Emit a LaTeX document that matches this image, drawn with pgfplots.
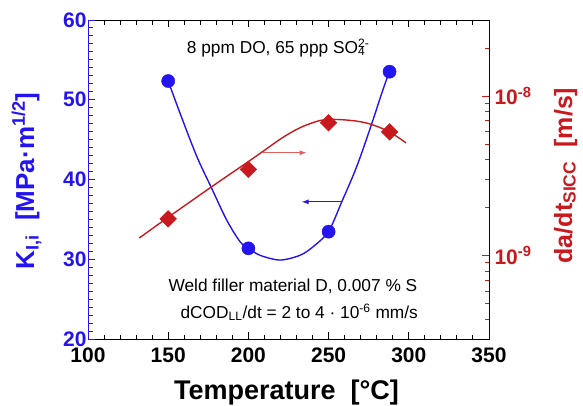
\documentclass[border=0pt]{standalone}
\usepackage{fontspec}
\setmainfont{Liberation Sans}
\usepackage{pgfplots}
\pgfplotsset{compat=1.18}
\usetikzlibrary{arrows.meta}
\definecolor{kblue}{RGB}{35,20,240}
\definecolor{kred}{RGB}{200,25,30}
\definecolor{karrow}{RGB}{225,95,95}
\pgfplotsset{
  common/.style={at={(88pt,-339pt)}, anchor=south west, width=401pt, height=319pt,
    scale only axis, xmin=100, xmax=350, tick align=inside,
    major tick length=7pt, minor tick length=4.5pt}
}
\begin{document}
\begin{tikzpicture}
\useasboundingbox (0pt,0pt) rectangle (583pt,-405pt);
% frame and x axis
\begin{axis}[common, ymin=20, ymax=60,
  axis line style={black, line width=0.9pt},
  xtick={100,150,...,350}, minor x tick num=4,
  xtick pos=both, xticklabel pos=lower,
  ytick=\empty,
  tick style={black, line width=1pt},
  major tick style={black, line width=1pt},
  minor tick style={black, line width=1pt},
  xticklabel style={font=\fontsize{21}{21}\selectfont\bfseries, yshift=-5pt},
  /pgf/number format/assume math mode=true,
]
\end{axis}
% left axis: K_I,i
\begin{axis}[common, ymin=20, ymax=60,
  axis line style={draw=none},
  xtick=\empty,
  ytick={20,30,...,60}, minor y tick num=9,
  ytick pos=left, yticklabel pos=left,
  tick style={kblue, line width=1pt},
  major tick style={kblue, line width=1pt},
  minor tick style={kblue, line width=1pt},
  yticklabel style={font=\fontsize{21}{21}\selectfont\bfseries, text=kblue, xshift=2pt},
  /pgf/number format/assume math mode=true,
]
\draw[kblue, line width=0.9pt] (rel axis cs:0,0) -- (rel axis cs:0,1);
\addplot[kblue, line width=1.4pt, smooth] coordinates {
(150,52.35) (157.4,48.3) (167.8,42.9) (177.1,38.9) (186.5,34.9) (194.8,32.2)
(200,31.4) (207.2,30.5) (219.7,29.9) (232.2,30.5) (240.5,31.6) (250,33.5)
(258.2,37.2) (267.5,41.6) (276.9,47.0) (283.1,50.8) (287.8,53.5)};
\addplot[only marks, mark=*, mark size=6.6pt, color=kblue] coordinates {
(150,52.35) (200,31.37) (250,33.46) (288,53.52)};
\draw[karrow, line width=1pt, -{Latex[length=7pt,width=5pt]}] (axis cs:209.3,43.36) -- (axis cs:236.3,43.36);
\draw[kblue, line width=1pt, -{Latex[length=7pt,width=5pt]}] (axis cs:258.2,37.2) -- (axis cs:233.2,37.2);
\end{axis}
% right axis: da/dt
\begin{axis}[common, ymode=log, ymin=3e-10, ymax=3e-8,
  axis line style={draw=none},
  xtick=\empty,
  ytick={1e-9,1e-8},
  yticklabels={\textbf{10\textsuperscript{-9}}, \textbf{10\textsuperscript{-8}}},
  minor ytick={4e-10,5e-10,6e-10,7e-10,8e-10,9e-10,2e-9,3e-9,4e-9,5e-9,6e-9,7e-9,8e-9,9e-9,2e-8},
  ytick pos=right, yticklabel pos=right,
  tick style={kred, line width=1pt},
  major tick style={kred, line width=1pt},
  minor tick style={kred, line width=1pt},
  yticklabel style={font=\fontsize{21}{21}\selectfont\bfseries, text=kred, xshift=2pt},
]
\draw[kred, line width=0.9pt] (rel axis cs:1,0) -- (rel axis cs:1,1);
\addplot[kred, line width=1.4pt, smooth] coordinates {
(132,1.291e-9) (150,1.74e-9) (176.1,2.66e-9) (200,3.89e-9) (209.3,4.52e-9)
(221,5.47e-9) (232.2,6.34e-9) (244.6,7.03e-9) (255,7.14e-9) (267.5,6.97e-9)
(276.9,6.64e-9) (287.8,5.98e-9) (298.3,5.09e-9)};
\addplot[only marks, mark=square*, mark size=5.9pt, mark options={rotate=45}, color=kred] coordinates {
(150,1.70e-9) (200,3.47e-9) (250,6.81e-9) (288,5.97e-9)};
\end{axis}
% labels
\node[rotate=90, anchor=base, text=kblue, font=\fontsize{26}{26}\selectfont\bfseries] at (34pt,-181pt) {K\textsubscript{I,i}\ \ [MPa·m\textsuperscript{1/2}]};
\node[rotate=90, anchor=base, text=kred, font=\fontsize{25}{25}\selectfont\bfseries] at (572pt,-175.5pt) {da/dt\textsubscript{SICC}\ \ [m/s]};
\node[anchor=base, font=\fontsize{27}{27}\selectfont\bfseries] at (286.5pt,-399pt) {Temperature\ \ [°C]};
% annotations
\node[anchor=base west, inner sep=0pt, font=\fontsize{17.3}{17.3}\selectfont] at (186.7pt,-53.3pt) {8 ppm DO, 65 ppp SO\rlap{\textsubscript{4}}\textsuperscript{2-}};
\node[anchor=base east, inner sep=0pt, font=\fontsize{17.3}{17.3}\selectfont] at (417.5pt,-291pt) {Weld filler material D, 0.007 \% S};
\node[anchor=base east, inner sep=0pt, font=\fontsize{17.3}{17.3}\selectfont] at (418pt,-318.3pt) {dCOD\textsubscript{LL}/dt = 2 to 4 · 10\textsuperscript{-6} mm/s};
\end{tikzpicture}
\end{document}
